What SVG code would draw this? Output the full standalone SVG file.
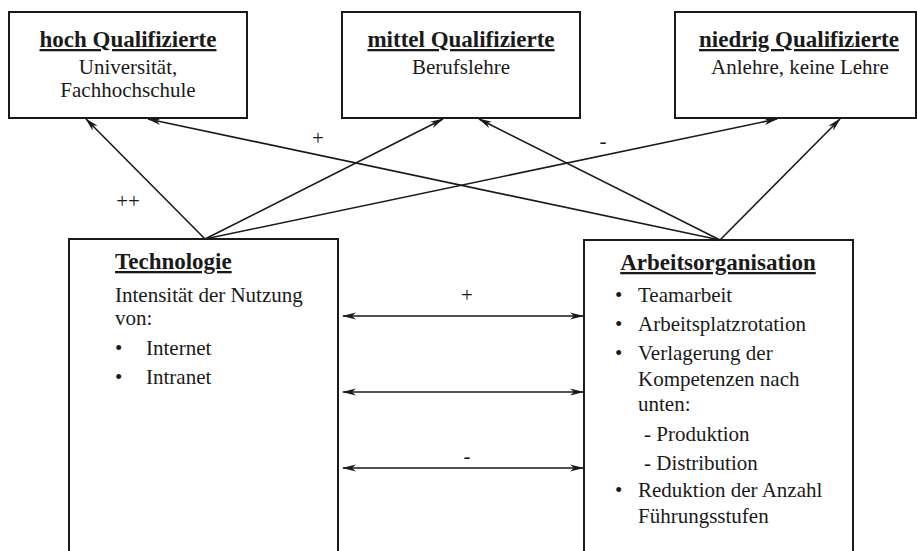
<svg xmlns="http://www.w3.org/2000/svg" width="917" height="551" viewBox="0 0 917 551" font-family="Liberation Serif, Times New Roman, serif">
<style>
.box{fill:#fff;stroke:#1a1a1a;stroke-width:2}
.t{font-size:21px;fill:#1a1a1a}
.h{font-size:23px;font-weight:bold;fill:#1a1a1a;text-decoration:underline}
.c{text-anchor:middle}
.ln{stroke:#1a1a1a;stroke-width:1.6;fill:none;marker-end:url(#ah)}
.dl{stroke:#1a1a1a;stroke-width:1.6;fill:none;marker-end:url(#ah);marker-start:url(#ah)}
</style>
<defs>
<marker id="ah" viewBox="0 0 14 8" refX="13" refY="4" markerWidth="14" markerHeight="8" markerUnits="userSpaceOnUse" orient="auto-start-reverse">
<path d="M0,0.5 L14,4 L0,7.5 L4,4 z" fill="#1a1a1a"/>
</marker>
</defs>
<rect width="917" height="551" fill="#fff"/>
<g id="hoch">
<rect class="box" x="9" y="12" width="238" height="106"/>
<text class="h c" x="128" y="47" font-family="Liberation Serif">hoch Qualifizierte</text>
<text class="t c" x="128" y="74" font-family="Liberation Serif">Universität,</text>
<text class="t c" x="128" y="97" font-family="Liberation Serif">Fachhochschule</text>
</g>
<g id="mittel">
<rect class="box" x="342" y="12" width="238" height="106"/>
<text class="h c" x="461" y="47" font-family="Liberation Serif">mittel Qualifizierte</text>
<text class="t c" x="461" y="74" font-family="Liberation Serif">Berufslehre</text>
</g>
<g id="niedrig">
<rect class="box" x="675" y="12" width="241" height="106"/>
<text class="h c" x="799" y="47" font-family="Liberation Serif">niedrig Qualifizierte</text>
<text class="t c" x="800" y="74" font-family="Liberation Serif">Anlehre, keine Lehre</text>
</g>
<g id="technologie" font-family="Liberation Serif">
<rect class="box" x="69" y="239" width="269" height="330"/>
<text class="h" x="115" y="269">Technologie</text>
<text class="t" x="115" y="302">Intensität der Nutzung</text>
<text class="t" x="115" y="325">von:</text>
<text class="t" x="115" y="355">•</text>
<text class="t" x="146" y="355">Internet</text>
<text class="t" x="115" y="384">•</text>
<text class="t" x="146" y="384">Intranet</text>
</g>
<g id="arbeitsorganisation" font-family="Liberation Serif">
<rect class="box" x="584" y="240" width="269" height="330"/>
<text class="h c" x="718" y="270">Arbeitsorganisation</text>
<text class="t" x="615" y="302">•</text>
<text class="t" x="638" y="302">Teamarbeit</text>
<text class="t" x="615" y="331">•</text>
<text class="t" x="638" y="331">Arbeitsplatzrotation</text>
<text class="t" x="615" y="360">•</text>
<text class="t" x="638" y="360">Verlagerung der</text>
<text class="t" x="638" y="386">Kompetenzen nach</text>
<text class="t" x="638" y="411">unten:</text>
<text class="t" x="644" y="441">- Produktion</text>
<text class="t" x="644" y="470">- Distribution</text>
<text class="t" x="615" y="497">•</text>
<text class="t" x="638" y="497">Reduktion der Anzahl</text>
<text class="t" x="638" y="523">Führungsstufen</text>
</g>
<g id="connectors" font-family="Liberation Serif">
<line class="ln" x1="205" y1="239" x2="86" y2="119"/>
<line class="ln" x1="205" y1="239" x2="443" y2="119"/>
<line class="ln" x1="205" y1="239" x2="777" y2="119"/>
<line class="ln" x1="720" y1="240" x2="148" y2="119"/>
<line class="ln" x1="720" y1="240" x2="479" y2="119"/>
<line class="ln" x1="720" y1="240" x2="840" y2="119"/>
<line class="dl" x1="343" y1="316" x2="583" y2="316"/>
<line class="dl" x1="343" y1="392" x2="583" y2="392"/>
<line class="dl" x1="343" y1="468" x2="583" y2="468"/>
<text class="t c" x="318" y="145">+</text>
<text class="t c" x="128" y="208">++</text>
<text class="t c" x="603" y="148">-</text>
<text class="t c" x="467" y="302">+</text>
<text class="t c" x="467" y="463">-</text>
</g>
</svg>
